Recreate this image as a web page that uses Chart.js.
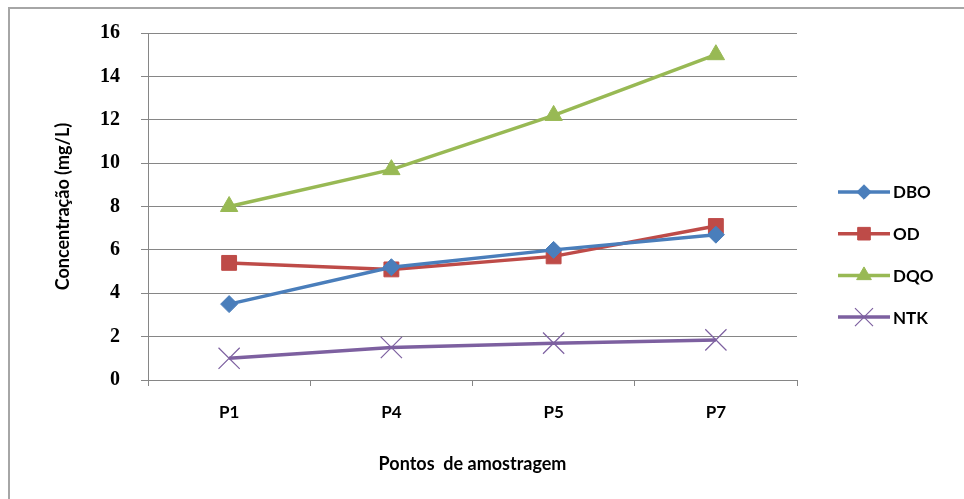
<!DOCTYPE html>
<html>
<head>
<meta charset="utf-8">
<script src="https://cdn.jsdelivr.net/npm/chart.js@4.4.1/dist/chart.umd.min.js"></script>
<style>
    html, body { margin: 0; padding: 0; background: #fff; }
    canvas { display: block; }
</style>
</head>
<body>
<canvas id="chart" width="964" height="499"></canvas>
<script>
'use strict';

const pontos = ['P1', 'P4', 'P5', 'P7'];
const dbo = [3.5, 5.2, 6.0, 6.7];
const od = [5.4, 5.1, 5.7, 7.1];
const dqo = [8.0, 9.7, 12.2, 15.0];
const ntk = [1.0, 1.5, 1.7, 1.85];
const yTicks = [0, 2, 4, 6, 8, 10, 12, 14, 16];

const GRID = '#868686';
const SANS = 'Lato';

// outer frame of the chart object
const frame = {
    id: 'frame',
    beforeDraw(chart) {
        const ctx = chart.ctx;
        ctx.save();
        ctx.strokeStyle = '#a6a6a6';
        ctx.lineWidth = 2;
        ctx.strokeRect(9, 8, 1000, 600);
        ctx.restore();
    }
};

// legend drawn by hand so the line runs through the marker, like Excel
const lineLegend = {
    id: 'lineLegend',
    afterDraw(chart) {
        const ctx = chart.ctx;
        const x0 = 838, len = 52;
        let y = 192;
        ctx.save();
        chart.data.datasets.forEach(ds => {
            ctx.strokeStyle = ds.borderColor;
            ctx.lineWidth = ds.borderWidth;
            ctx.beginPath();
            ctx.moveTo(x0, y);
            ctx.lineTo(x0 + len, y);
            ctx.stroke();
            ctx.fillStyle = ds.pointBackgroundColor;
            ctx.strokeStyle = ds.pointBorderColor;
            ctx.lineWidth = ds.pointBorderWidth;
            Chart.helpers.drawPoint(ctx, {
                pointStyle: ds.pointStyle,
                radius: ds.pointRadius * 0.85,
                borderWidth: ds.pointBorderWidth,
                rotation: 0
            }, x0 + len / 2, y);
            ctx.fillStyle = '#000';
            ctx.font = 'bold 17px ' + SANS;
            ctx.textBaseline = 'middle';
            ctx.fillText(ds.label, x0 + len + 3, y + 1);
            y += 41.7;
        });
        ctx.restore();
    }
};

function serie(label, data, color, style, radius) {
    return {
        label: label,
        data: data,
        borderColor: color,
        borderWidth: 3.5,
        pointStyle: style,
        pointRadius: radius,
        pointHoverRadius: radius,
        pointBackgroundColor: color,
        pointBorderColor: color,
        pointBorderWidth: style === 'crossRot' ? 1.2 : 1,
        tension: 0
    };
}

new Chart(document.getElementById('chart'), {
    type: 'line',
    data: {
        labels: pontos,
        datasets: [
            serie('DBO', dbo, '#4a7ebb', 'rectRot', 8.5),
            serie('OD', od, '#be4b48', 'rect', 10.5),
            serie('DQO', dqo, '#98b954', 'triangle', 10),
            serie('NTK', ntk, '#7d60a0', 'crossRot', 15)
        ]
    },
    options: {
        responsive: false,
        animation: false,
        devicePixelRatio: 1,
        layout: { padding: { left: 0, right: 167, top: 32, bottom: 24 } },
        plugins: {
            legend: { display: false },
            tooltip: { enabled: false }
        },
        scales: {
            x: {
                offset: true,
                grid: { offset: true, drawOnChartArea: false, color: GRID, tickLength: 6 },
                border: { color: GRID, width: 1 },
                ticks: { color: '#000', font: { family: SANS, size: 17, weight: 'bold' }, padding: 16 },
                title: {
                    display: true,
                    text: 'Pontos  de amostragem',
                    color: '#000',
                    font: { family: SANS, size: 18, weight: 'bold' },
                    padding: { top: 0, bottom: 0 }
                },
                afterFit(scale) { scale.height = 95; }
            },
            y: {
                min: 0,
                max: 16,
                afterBuildTicks(scale) { scale.ticks = yTicks.map(v => ({ value: v })); },
                grid: { color: GRID, tickLength: 7 },
                border: { color: GRID, width: 1 },
                ticks: { color: '#000', font: { family: 'Liberation Serif', size: 20, weight: 'bold' }, padding: 21 },
                title: {
                    display: true,
                    text: 'Concentração (mg/L)',
                    color: '#000',
                    font: { family: SANS, size: 18, weight: 'bold' },
                    padding: { top: 52, bottom: 0 }
                },
                afterFit(scale) { scale.width = 148; }
            }
        }
    },
    plugins: [frame, lineLegend]
});
</script>
</body>
</html>
